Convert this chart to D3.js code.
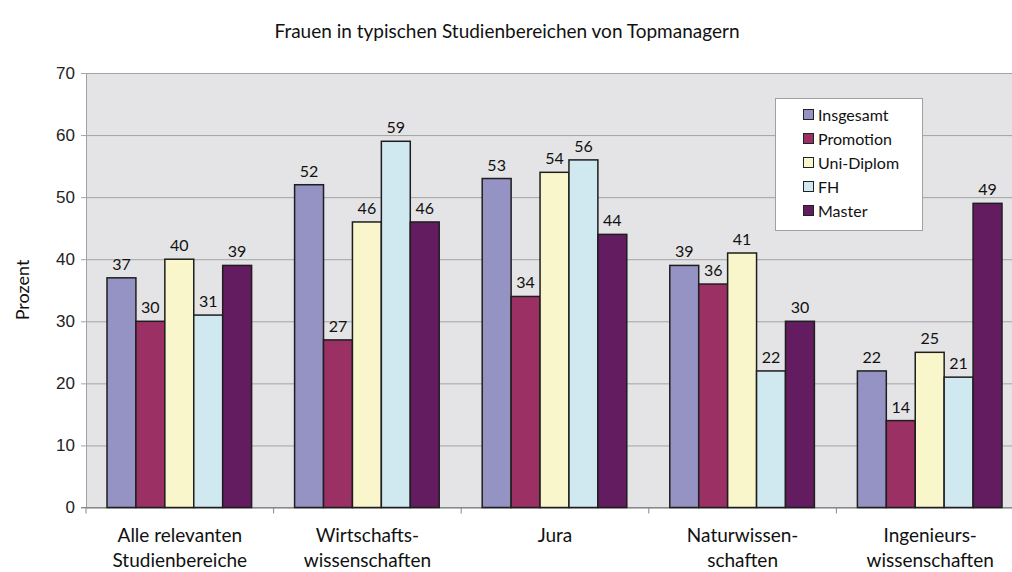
<!DOCTYPE html>
<html>
<head>
<meta charset="utf-8">
<script src="https://cdn.jsdelivr.net/npm/d3@7"></script>
<style>
  html, body { margin: 0; padding: 0; background: #fff; overflow: hidden; }
  svg { display: block; font-family: Lato, "Open Sans", sans-serif; }
</style>
</head>
<body>
<div id="chart"></div>
<script>
const categories = [
  ['Alle relevanten', 'Studienbereiche'],
  ['Wirtschafts-', 'wissenschaften'],
  ['Jura'],
  ['Naturwissen-', 'schaften'],
  ['Ingenieurs-', 'wissenschaften'],
];
const seriesNames = ['Insgesamt', 'Promotion', 'Uni-Diplom', 'FH', 'Master'];
const seriesColors = ['#9592c4', '#9a3064', '#faf6cb', '#d0e9f0', '#621c5f'];
const insgesamt = [37, 52, 53, 39, 22];
const promotion = [30, 27, 34, 36, 14];
const uniDiplom = [40, 46, 54, 41, 25];
const fh = [31, 59, 56, 22, 21];
const master = [39, 46, 44, 30, 49];
const yTicks = [0, 10, 20, 30, 40, 50, 60, 70];

const values = [insgesamt, promotion, uniDiplom, fh, master];
const width = 1012;
const height = 572;
const margin = { top: 73, left: 86, bottom: 64 };
const plotRight = 1024;

const svg = d3.select('#chart').append('svg').attr('width', width).attr('height', height);

const x0 = d3.scaleBand().domain(d3.range(categories.length)).range([margin.left, plotRight]).paddingInner(0).paddingOuter(0);
const x1 = d3.scaleBand().domain(d3.range(seriesNames.length)).range([21, x0.bandwidth() - 22]).padding(0);
const y = d3.scaleLinear().domain([0, 70]).range([height - margin.bottom - 0.5, margin.top]);

// plot background
svg.append('rect').attr('x', margin.left).attr('y', margin.top)
  .attr('width', plotRight - margin.left).attr('height', y(0) - margin.top).attr('fill', '#e4e4e6');

// gridlines + y ticks
const yAxis = svg.append('g').attr('transform', `translate(${margin.left},0)`)
  .call(d3.axisLeft(y).tickValues(yTicks).tickSize(-(plotRight - margin.left)).tickPadding(11));
yAxis.select('.domain').attr('stroke', '#a0a0a0');
yAxis.selectAll('.tick line').attr('stroke', '#a4a4a6').attr('x1', -5);
yAxis.selectAll('.tick text').attr('font-size', 17).attr('fill', '#222');

// x axis
const xAxis = svg.append('g').attr('transform', `translate(0,${y(0)})`);
xAxis.append('line').attr('x1', margin.left - 5).attr('x2', plotRight).attr('stroke', '#888');
d3.range(categories.length + 1).forEach((i) => {
  const xp = margin.left + i * x0.bandwidth();
  xAxis.append('line').attr('x1', xp).attr('x2', xp).attr('y1', 0).attr('y2', 6).attr('stroke', '#888');
});

// bars
categories.forEach((cat, ci) => {
  const g = svg.append('g').attr('transform', `translate(${x0(ci)},0)`);
  values.forEach((vals, si) => {
    const v = vals[ci];
    g.append('rect').attr('x', x1(si)).attr('y', y(v)).attr('width', x1.bandwidth()).attr('height', y(0) - y(v))
      .attr('fill', seriesColors[si]).attr('stroke', '#1e1e1e').attr('stroke-width', 1.5);
    g.append('text').attr('x', x1(si) + x1.bandwidth() / 2).attr('y', y(v) - 8)
      .attr('text-anchor', 'middle').attr('font-size', 16).attr('fill', '#111').text(v);
  });
  const label = svg.append('text').attr('x', x0(ci) + x0.bandwidth() / 2).attr('y', 542)
    .attr('text-anchor', 'middle').attr('font-size', 19).attr('fill', '#111');
  cat.forEach((line, li) => {
    label.append('tspan').attr('x', x0(ci) + x0.bandwidth() / 2).attr('dy', li === 0 ? 0 : 25).text(line);
  });
});

// title
svg.append('text').attr('x', 507).attr('y', 38).attr('text-anchor', 'middle')
  .attr('font-size', 19).attr('fill', '#111').text('Frauen in typischen Studienbereichen von Topmanagern');

// y label
svg.append('text').attr('transform', 'translate(29,290) rotate(-90)').attr('text-anchor', 'middle')
  .attr('font-size', 18).attr('fill', '#111').text('Prozent');

// legend
const legend = svg.append('g');
legend.append('rect').attr('x', 775.5).attr('y', 98.5).attr('width', 147).attr('height', 132)
  .attr('fill', '#fff').attr('stroke', '#a0a0a0');
seriesNames.forEach((name, i) => {
  const cy = 114 + i * 24;
  legend.append('rect').attr('x', 803.5).attr('y', cy - 4.5).attr('width', 10).attr('height', 10)
    .attr('fill', seriesColors[i]).attr('stroke', '#222').attr('stroke-width', 1);
  legend.append('text').attr('x', 818).attr('y', cy + 1).attr('dy', '0.35em')
    .attr('font-size', 16).attr('fill', '#111').text(name);
});
</script>
</body>
</html>
